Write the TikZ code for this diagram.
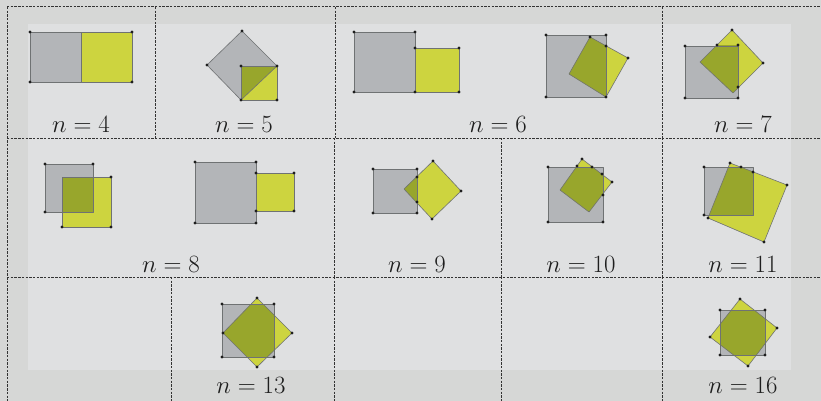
\documentclass[tikz,border=0pt]{standalone}
\usepackage{amsmath}
\usetikzlibrary{calc}
\definecolor{board}{HTML}{D6D7D6}
\definecolor{panel}{HTML}{DFE0E1}
\definecolor{rule}{HTML}{333333}
\definecolor{ink}{HTML}{1E1E1E}
\definecolor{slate}{HTML}{B3B5B8}
\definecolor{lime}{HTML}{CDD43F}
\definecolor{olive}{HTML}{98A62C}
\definecolor{rim}{HTML}{6F7273}
% grey tile #1, yellow tile #2, overlap in olive
\newcommand{\tiles}[2]{%
  \fill[slate] #1 -- cycle;
  \fill[lime] #2 -- cycle;
  \begin{scope}
    \clip #1 -- cycle;
    \fill[olive] #2 -- cycle;
  \end{scope}
  \draw[tileedge] #1 -- cycle;
  \draw[tileedge] #2 -- cycle;
}
\newcommand{\pins}[1]{\foreach \p in {#1} \fill[ink] \p circle (1.7pt);}
\tikzset{
  cellrule/.style={
    draw=rule,
    line width=1pt,
    dash pattern=on 2.4pt off 1.3pt
  },
  tileedge/.style={
    draw=rim,
    line width=0.6pt,
    line join=round
  },
  caption/.style={
    anchor=base,
    inner sep=0pt,
    text=ink,
    font=\fontsize{24}{27}\selectfont
  }
}

\begin{document}
\begin{tikzpicture}[x=1pt, y=-1pt]
  \useasboundingbox (0,0) rectangle (821,401);
  \fill[board] (0,0) rectangle (821,401);
  \fill[panel] (28,24) rectangle (791,370);

  % cell borders
  \foreach \y in {7,138,277}
    \draw[cellrule] (7,\y) -- (821,\y);
  \draw[cellrule] (7,7) -- (7,401);
  \foreach \x in {155,335,662}
    \draw[cellrule] (\x,7) -- (\x,138);
  \foreach \x in {334,501,662}
    \draw[cellrule] (\x,138) -- (\x,277);
  \foreach \x in {171,334,501,662}
    \draw[cellrule] (\x,277) -- (\x,401);

  % n = 4
  \tiles{(30,32) -- (81,32) -- (81,82) -- (30,82)}
        {(81,32) -- (132,32) -- (132,82) -- (81,82)}
  \pins{(30,32),(132,32),(30,82),(132,82)}
  % n = 5
  \tiles{(242,31) -- (277,66) -- (241,100) -- (207,65)}
        {(241,66) -- (277,66) -- (277,100) -- (241,100)}
  \pins{(242,31),(207,65),(277,66),(241,66),(241,100),(277,100)}
  % n = 6
  \tiles{(354,32) -- (415,32) -- (415,92) -- (354,92)}
        {(415,48) -- (459,48) -- (459,92) -- (415,92)}
  \pins{(354,32),(415,32),(354,92),(415,92),(415,48),(459,48),(459,92)}
  \tiles{(546,35) -- (606,35) -- (606,97) -- (546,97)}
        {(590,37) -- (628,58) -- (606,97) -- (569,74)}
  \pins{(546,35),(590,37),(606,35),(606,46),(628,58),(546,97),(606,97)}
  % n = 7
  \tiles{(685,46) -- (738,46) -- (738,98) -- (685,98)}
        {(732,30) -- (763,63) -- (733,93) -- (700,62)}
  \pins{(732,30),(763,63),(717,45),(738,45),(738,87),(738,98),(685,46),(685,98)}

  % n = 8
  \tiles{(45,164) -- (93,164) -- (93,212) -- (45,212)}
        {(62,177) -- (111,177) -- (111,227) -- (62,227)}
  \pins{(45,164),(93,164),(45,212),(111,177),(62,227),(111,227)}
  \tiles{(195,162) -- (256,162) -- (256,223) -- (195,223)}
        {(256,173) -- (294,173) -- (294,211) -- (256,211)}
  \pins{(195,162),(256,162),(195,223),(256,223),(256,173),(294,173),(256,211),(294,211)}
  % n = 9
  \tiles{(373,169) -- (417,169) -- (417,213) -- (373,213)}
        {(433,161) -- (461,191) -- (432,219) -- (404,189)}
  \pins{(373,169),(417,169),(373,213),(417,213),(433,161),(461,191),(432,219),(417,177),(417,202)}
  % n = 10
  \tiles{(548,167) -- (603,167) -- (603,222) -- (548,222)}
        {(582,159) -- (612,182) -- (589,212) -- (560,190)}
  \pins{(548,167),(548,222),(603,222),(582,159),(612,182),(577,166),(592,167),(602,174),(603,195)}
  % n = 11
  \tiles{(704,167) -- (753,167) -- (753,215) -- (704,215)}
        {(730,163) -- (787,185) -- (764,242) -- (708,218)}
  \pins{(704,167),(730,163),(741,167),(753,172),(787,185),(764,242),(708,218),(704,215)}

  % n = 13
  \tiles{(222,304) -- (274,304) -- (274,357) -- (222,357)}
        {(257,298) -- (292,333) -- (257,367) -- (223,333)}
  \pins{(222,304),(274,304),(222,357),(274,357),(257,298),(292,333),(257,367),(223,333)}
  % n = 16
  \tiles{(720,310) -- (765,310) -- (765,355) -- (720,355)}
        {(740,299) -- (777,328) -- (748,366) -- (710,337)}
  \pins{(720,310),(765,310),(720,355),(765,355),(740,299),(777,328),(748,366),(710,337)}

  % captions
  \node[caption] (n4) at (81,132) {$n=4$};
  \node[caption] (n5) at (244,132) {$n=5$};
  \node[caption] (n6) at (498,132) {$n=6$};
  \node[caption] (n7) at (743,132) {$n=7$};
  \node[caption] (n8) at (171,272) {$n=8$};
  \node[caption] (n9) at (417,272) {$n=9$};
  \node[caption] (n10) at (581,272) {$n=10$};
  \node[caption] (n11) at (743,272) {$n=11$};
  \node[caption] (n13) at (251,393) {$n=13$};
  \node[caption] (n16) at (743,393) {$n=16$};
\end{tikzpicture}
\end{document}
